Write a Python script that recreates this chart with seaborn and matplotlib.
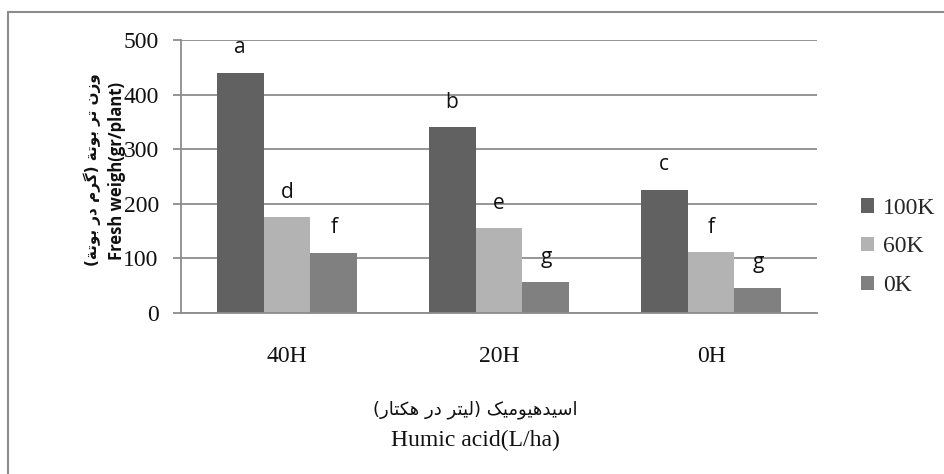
import numpy as np
import pandas as pd
import matplotlib
matplotlib.use("Agg")
import matplotlib.pyplot as plt
from matplotlib.patches import Patch
import seaborn as sns

# ---- data -------------------------------------------------------------
humic_levels = ["40H", "20H", "0H"]
potassium_levels = ["100K", "60K", "0K"]
weight_100k = [440, 340, 226]
weight_60k = [175, 155, 111]
weight_0k = [110, 56, 46]
group_letters_100k = ["a", "b", "c"]
group_letters_60k = ["d", "e", "f"]
group_letters_0k = ["f", "g", "g"]
bar_colors = ["#616161", "#b3b3b3", "#808080"]

ylabel_fa = "وزن تر بوتة (گرم در بوتة)"
ylabel_en = "Fresh weigh(gr/plant)"
xlabel_fa = "اسیدهیومیک (لیتر در هکتار)"
xlabel_en = "Humic acid(L/ha)"

# ---- minimal Arabic/Persian shaping (matplotlib has no text shaping) ---
# letter: (isolated, final, initial, medial); None = does not join forward
FORMS = {
    "ا": ("\uFE8D", "\uFE8E", None, None),
    "ب": ("\uFE8F", "\uFE90", "\uFE91", "\uFE92"),
    "ت": ("\uFE95", "\uFE96", "\uFE97", "\uFE98"),
    "ة": ("\uFE93", "\uFE94", None, None),
    "د": ("\uFEA9", "\uFEAA", None, None),
    "ر": ("\uFEAD", "\uFEAE", None, None),
    "ز": ("\uFEAF", "\uFEB0", None, None),
    "س": ("\uFEB1", "\uFEB2", "\uFEB3", "\uFEB4"),
    "ل": ("\uFEDD", "\uFEDE", "\uFEDF", "\uFEE0"),
    "م": ("\uFEE1", "\uFEE2", "\uFEE3", "\uFEE4"),
    "ن": ("\uFEE5", "\uFEE6", "\uFEE7", "\uFEE8"),
    "ه": ("\uFEE9", "\uFEEA", "\uFEEB", "\uFEEC"),
    "و": ("\uFEED", "\uFEEE", None, None),
    "ی": ("\uFBFC", "\uFBFD", "\uFBFE", "\uFBFF"),
    "ک": ("\uFB8E", "\uFB8F", "\uFB90", "\uFB91"),
    "گ": ("\uFB92", "\uFB93", "\uFB94", "\uFB95"),
}
MIRROR = {"(": ")", ")": "("}


def shape_rtl(text):
    out = []
    n = len(text)
    for i, ch in enumerate(text):
        if ch not in FORMS:
            out.append(ch)
            continue
        prev = text[i - 1] if i > 0 else ""
        nxt = text[i + 1] if i + 1 < n else ""
        joins_prev = prev in FORMS and FORMS[prev][2] is not None
        joins_next = nxt in FORMS and FORMS[ch][2] is not None
        iso, fin, ini, med = FORMS[ch]
        if joins_prev and joins_next:
            out.append(med)
        elif joins_prev:
            out.append(fin)
        elif joins_next:
            out.append(ini)
        else:
            out.append(iso)
    return "".join(MIRROR.get(c, c) for c in reversed(out))


# ---- tidy frame -------------------------------------------------------
df = pd.DataFrame({
    "humic": humic_levels * 3,
    "potassium": np.repeat(potassium_levels, 3),
    "weight": weight_100k + weight_60k + weight_0k,
    "letter": group_letters_100k + group_letters_60k + group_letters_0k,
})

sns.set_theme(style="white")
plt.rcParams["font.family"] = ["Liberation Serif", "DejaVu Sans"]

W, H = 945, 474
fig = plt.figure(figsize=(W / 100, H / 100), dpi=100)
ax = fig.add_axes([181 / W, 1 - 313 / H, (817 - 181) / W, (313 - 40) / H])

sns.barplot(data=df, x="humic", y="weight", hue="potassium",
            order=humic_levels, hue_order=potassium_levels,
            palette=bar_colors, width=0.665, saturation=1,
            edgecolor="none", linewidth=0, ax=ax, legend=False)

# significance letters above each bar
for container, letters in zip(ax.containers,
                              [group_letters_100k, group_letters_60k, group_letters_0k]):
    for bar, letter in zip(container, letters):
        ax.annotate(letter, (bar.get_x() + bar.get_width() / 2, bar.get_height()),
                    xytext=(0, 18), textcoords="offset points",
                    ha="center", va="center", fontsize=15,
                    family=["Open Sans", "DejaVu Sans"], color="#111111")

ax.set_ylim(0, 500)
ax.set_yticks([0, 100, 200, 300, 400, 500])
ax.yaxis.grid(True, color="#8c8c8c", linewidth=1.3)
ax.set_axisbelow(True)
for side in ["top", "right"]:
    ax.spines[side].set_visible(False)
for side in ["left", "bottom"]:
    ax.spines[side].set_color("#8c8c8c")
    ax.spines[side].set_linewidth(1.3)
ax.tick_params(axis="y", which="major", left=True, length=6, width=1.3,
               color="#8c8c8c", labelsize=17, pad=10, labelcolor="#111111")
ax.tick_params(axis="x", bottom=False, labelsize=17, pad=18, labelcolor="#111111")
ax.set_xlabel("")
ax.set_ylabel("")

# y-axis title (two lines, bold)
fig.text(92 / W, 1 - 170 / H, shape_rtl(ylabel_fa), rotation=90,
         ha="center", va="center", fontsize=11, fontweight="bold",
         family=["DejaVu Sans"], color="#111111")
fig.text(117 / W, 1 - 171 / H, ylabel_en, rotation=90,
         ha="center", va="center", fontsize=12, fontweight="bold",
         family=["Open Sans", "DejaVu Sans"], color="#111111")

# x-axis title (two lines)
fig.text(475 / W, 1 - 410 / H, shape_rtl(xlabel_fa), ha="center", va="center",
         fontsize=13, family=["DejaVu Sans"], color="#111111")
fig.text(475 / W, 1 - 440 / H, xlabel_en, ha="center", va="center",
         fontsize=17, color="#111111")

# legend
handles = [Patch(facecolor=c, edgecolor="none") for c in bar_colors]
fig.legend(handles, potassium_levels, loc="center left",
           bbox_to_anchor=(852 / W, 1 - 247 / H), frameon=False,
           fontsize=17, handlelength=0.55, handleheight=0.55,
           handletextpad=0.35, labelspacing=0.75, borderaxespad=0)

# chart-area frame
fig.add_artist(plt.Line2D([8 / W, 8 / W], [0, 1 - 12 / H], transform=fig.transFigure,
                          color="#8c8c8c", linewidth=1.5))
fig.add_artist(plt.Line2D([8 / W, 1], [1 - 12 / H, 1 - 12 / H], transform=fig.transFigure,
                          color="#8c8c8c", linewidth=1.5))

fig.savefig("out.png", dpi=100, facecolor="white")
